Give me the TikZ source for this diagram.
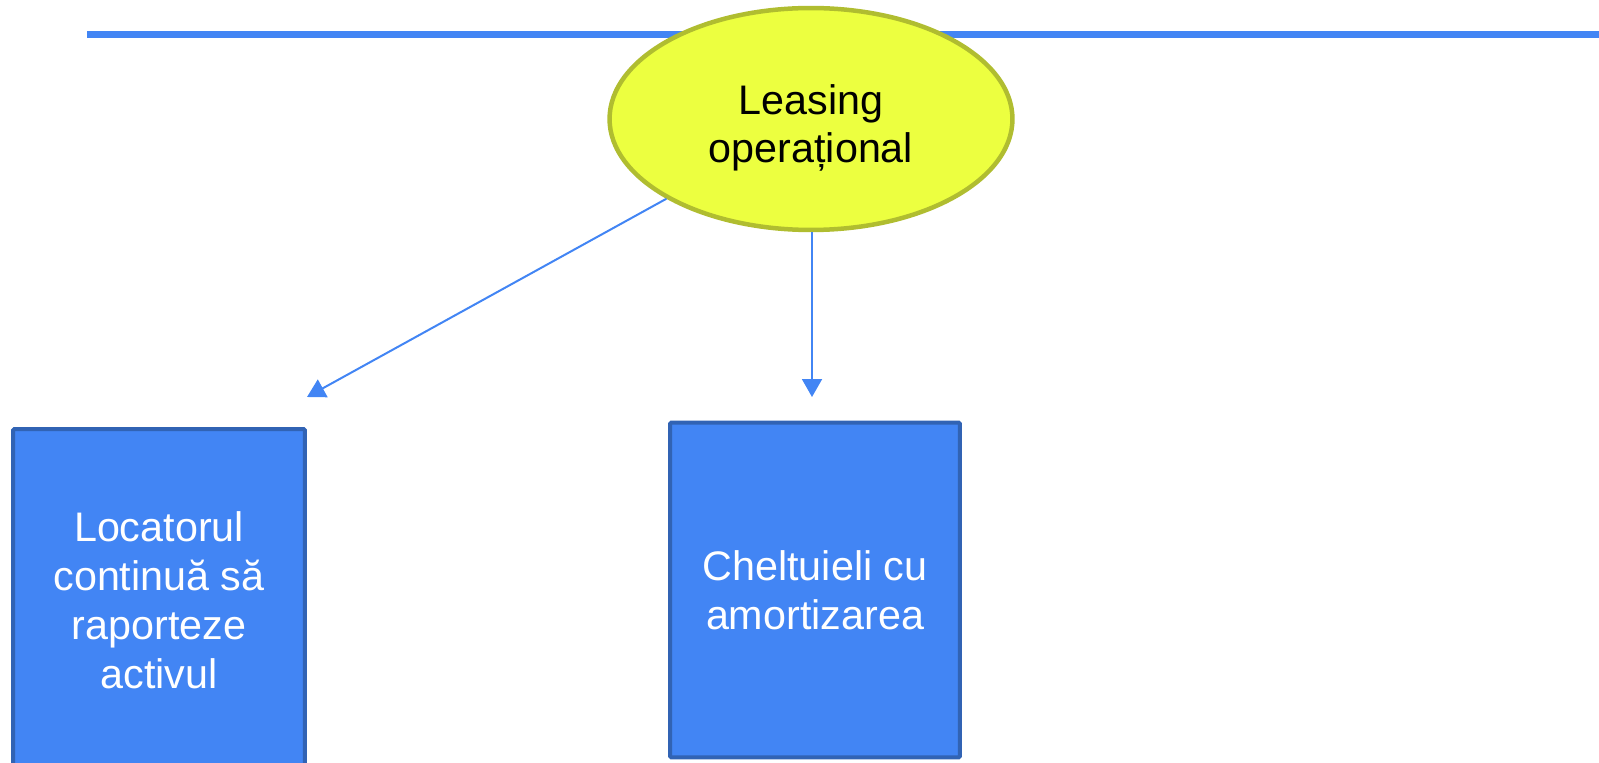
\documentclass[tikz,border=0pt]{standalone}
\usepackage{fontspec}
\setmainfont{Liberation Sans}
\usetikzlibrary{arrows.meta, shapes.geometric}
\definecolor{lineblue}{HTML}{4285F4}
\definecolor{edgeblue}{HTML}{3163B4}
\definecolor{ovalfill}{HTML}{ECFF40}
\definecolor{ovaledge}{HTML}{B0BD30}
\begin{document}
\begin{tikzpicture}[x=0.02cm, y=-0.02cm,
    oval/.style = {ellipse, draw=ovaledge, fill=ovalfill, line width=0.09cm, align=center, inner sep=0,
                   minimum width=8.06cm, minimum height=4.44cm, font=\fontsize{23.5}{27}\selectfont},
    card/.style = {rectangle, draw=edgeblue, fill=lineblue, line width=0.08cm, rounded corners=0.03cm,
                   align=center, inner sep=0, text=white, font=\fontsize{23.5}{27.8}\selectfont},
    >={Triangle[length=0.36cm, width=0.4cm]}]
    \useasboundingbox (0,0) rectangle (1599,763);

    \coordinate (lineL) at (87,35);
    \coordinate (lineR) at (1599,35);
    \draw[lineblue, line width=0.14cm] (lineL) -- (lineR);

    \node[oval]                                               (leasing) at (811,119) {\rule{0pt}{0.3cm}\\[-0.3cm]Leasing\\operațional};
    \node[card, minimum width=5.84cm, minimum height=6.84cm] (locator) at (159,600) {Locatorul\\continuă să\\raporteze\\activul};
    \node[card, minimum width=5.8cm, minimum height=6.7cm]   (amort)   at (815,590) {Cheltuieli cu\\amortizarea};

    \coordinate (tipL) at (307,397);
    \coordinate (tipR) at (812,397);
    \draw[->, lineblue, line width=0.04cm] (leasing) -- (tipL);
    \draw[->, lineblue, line width=0.04cm] (leasing.south -| tipR) -- (tipR);
  \end{tikzpicture}
\end{document}
